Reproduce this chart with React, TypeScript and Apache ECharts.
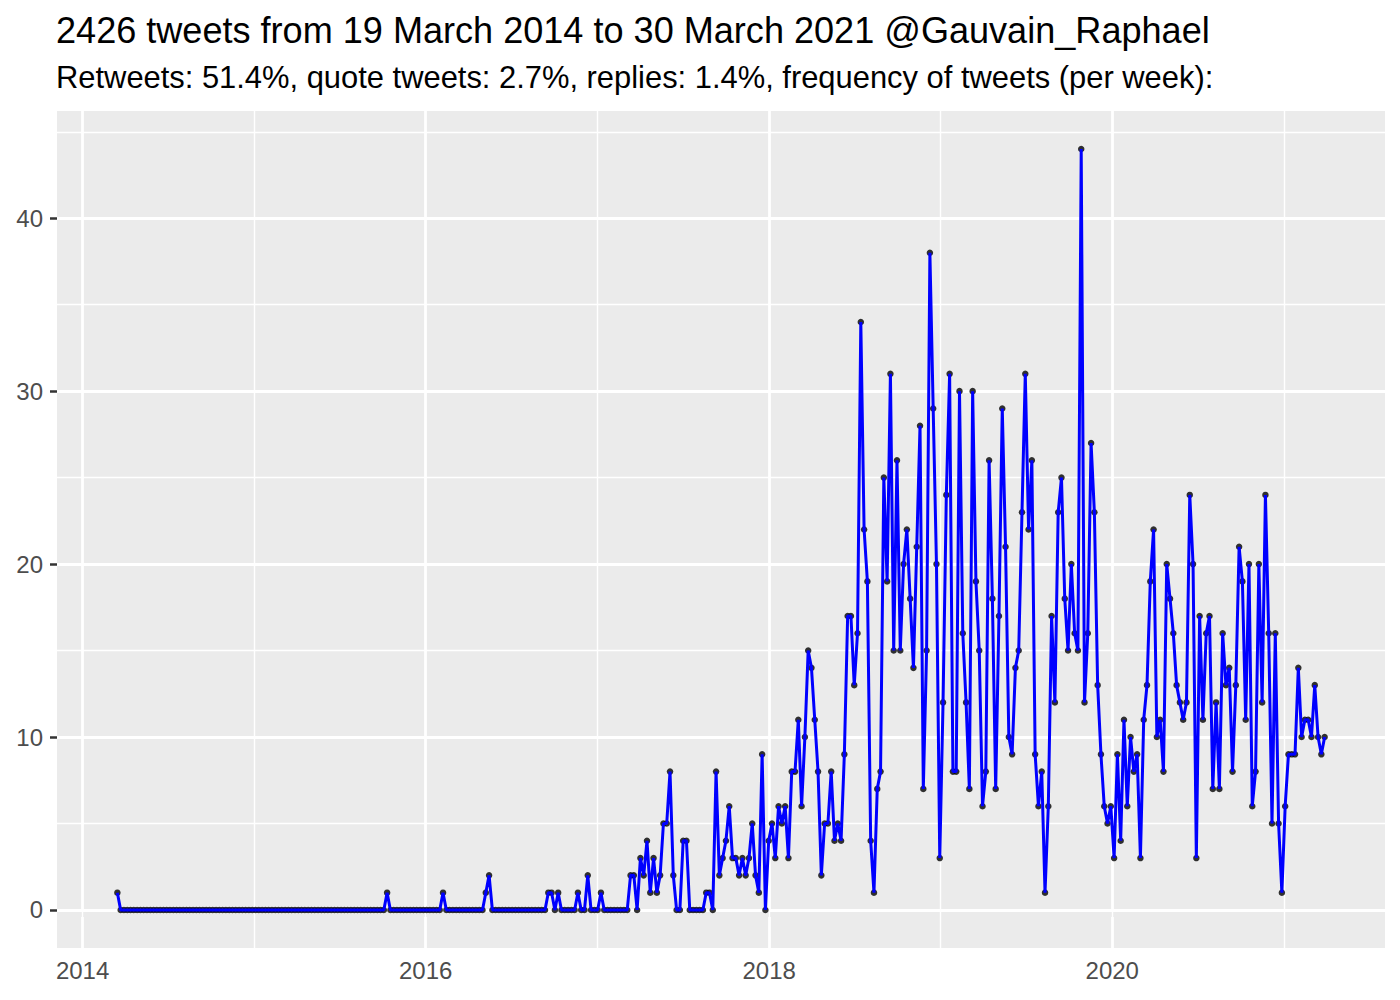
import React, { useEffect, useRef } from 'react';
import * as echarts from 'echarts';

// ---- data ----
const TITLE = '2426 tweets from 19 March 2014 to 30 March 2021 @Gauvain_Raphael';
const SUBTITLE = 'Retweets: 51.4%, quote tweets: 2.7%, replies: 1.4%, frequency of tweets (per week):';

// first week (start of week) of the series, weekly steps afterwards
const START_YEAR = 2014;
const START_MONTH = 3; // March
const START_DAY = 16;

// tweets per week, week 0 .. week 367
const tweetsPerWeek = [
  1,
  0, 0, 0, 0, 0, 0, 0, 0, 0, 0, 0, 0, 0, 0, 0, 0, 0, 0, 0, 0,
  0, 0, 0, 0, 0, 0, 0, 0, 0, 0, 0, 0, 0, 0, 0, 0, 0, 0, 0, 0,
  0, 0, 0, 0, 0, 0, 0, 0, 0, 0, 0, 0, 0, 0, 0, 0, 0, 0, 0, 0,
  0, 0, 0, 0, 0, 0, 0, 0, 0, 0, 0, 0, 0, 0, 0, 0, 0, 0, 0, 0,
  0, 1,
  0, 0, 0, 0, 0, 0, 0, 0, 0, 0, 0, 0, 0, 0, 0, 0,
  1,
  0, 0, 0, 0, 0, 0, 0, 0, 0, 0, 0, 0,
  1, 2,
  0, 0, 0, 0, 0, 0, 0, 0, 0, 0, 0, 0, 0, 0, 0, 0, 0,
  1, 1, 0, 1,
  0, 0, 0, 0, 0,
  1, 0, 0, 2, 0, 0, 0, 1,
  0, 0, 0, 0, 0, 0, 0, 0,
  2, 2, 0, 3, 2, 4, 1, 3, 1, 2, 5, 5, 8, 2, 0, 0, 4, 4,
  0, 0, 0, 0, 0,
  1, 1, 0, 8, 2, 3, 4, 6, 3, 3, 2, 3, 2, 3, 5, 2, 1, 9, 0, 4, 5, 3, 6, 5, 6, 3, 8,
  8, 11, 6, 10, 15, 14, 11, 8, 2, 5, 5, 8, 4, 5, 4, 9, 17, 17, 13, 16, 34, 22, 19, 4, 1, 7, 8,
  25, 19, 31, 15, 26, 15, 20, 22, 18, 14, 21, 28, 7, 15, 38, 29, 20, 3, 12, 24, 31, 8, 8, 30, 16,
  12, 7, 30, 19, 15, 6, 8, 26, 18, 7, 17, 29, 21, 10, 9, 14, 15, 23, 31, 22, 26, 9, 6, 8,
  1, 6, 17, 12, 23, 25, 18, 15, 20, 16, 15, 44, 12, 16, 27, 23, 13, 9, 6, 5, 6, 3, 9, 4,
  11, 6, 10, 8, 9, 3, 11, 13, 19, 22, 10, 11, 8, 20, 18, 16, 13, 12, 11, 12, 24, 20, 3,
  17, 11, 16, 17, 7, 12, 7, 16, 13, 14, 8, 13, 21, 19, 11, 20, 6, 8, 20, 12, 24, 16, 5, 16, 5,
  1, 6, 9, 9, 9, 14, 10, 11, 11, 10, 13, 10, 9, 10,
];

const xMajorYears = [2014, 2016, 2018, 2020];
const xMinorYears = [2015, 2017, 2019, 2021];
const yMajorTicks = [0, 10, 20, 30, 40];
const yMinorTicks = [5, 15, 25, 35, 45];

const FONT = '"Liberation Sans", Arial, Helvetica, sans-serif';

export default function App() {
  const ref = useRef<HTMLDivElement>(null);

  useEffect(() => {
    if (!ref.current) return;
    const chart = echarts.init(ref.current, undefined, { renderer: 'svg' });

    const DAY = 86400000;
    const start = Date.UTC(START_YEAR, START_MONTH - 1, START_DAY);
    const points = tweetsPerWeek.map((v, i) => [start + i * 7 * DAY, v]);
    const first = points[0][0] as number;
    const last = points[points.length - 1][0] as number;
    const xPad = (last - first) * 0.05;
    const yMaxData = Math.max(...tweetsPerWeek);
    const yMinData = Math.min(...tweetsPerWeek);
    const yPad = (yMaxData - yMinData) * 0.05;

    const yearMs = (y: number) => Date.UTC(y, 0, 1);
    const xMajor = xMajorYears.map(yearMs);
    const xMinor = xMinorYears.map(yearMs);

    const gridLines: any[] = [];
    xMinor.forEach((v) => gridLines.push({ xAxis: v, lineStyle: { color: '#FFFFFF', width: 1.4, type: 'solid' } }));
    yMinorTicks.forEach((v) => gridLines.push({ yAxis: v, lineStyle: { color: '#FFFFFF', width: 1.4, type: 'solid' } }));
    xMajor.forEach((v) => gridLines.push({ xAxis: v, lineStyle: { color: '#FFFFFF', width: 2.8, type: 'solid' } }));
    yMajorTicks.forEach((v) => gridLines.push({ yAxis: v, lineStyle: { color: '#FFFFFF', width: 2.8, type: 'solid' } }));

    chart.setOption({
      animation: false,
      backgroundColor: '#FFFFFF',
      textStyle: { fontFamily: FONT },
      graphic: [
        {
          type: 'text',
          x: 56,
          y: 30,
          style: {
            text: TITLE,
            fill: '#000000',
            fontSize: 36.1,
            fontFamily: FONT,
            align: 'left',
            verticalAlign: 'middle',
          },
        },
        {
          type: 'text',
          x: 56,
          y: 77,
          style: {
            text: SUBTITLE,
            fill: '#000000',
            fontSize: 30.9,
            fontFamily: FONT,
            align: 'left',
            verticalAlign: 'middle',
          },
        },
      ],
      grid: {
        left: 57,
        right: 15,
        top: 111,
        bottom: 52,
        show: true,
        backgroundColor: '#EBEBEB',
        borderWidth: 0,
        containLabel: false,
      },
      xAxis: {
        type: 'value',
        min: first - xPad,
        max: last + xPad,
        axisLine: { show: false },
        splitLine: { show: false },
        axisTick: {
          show: true,
          customValues: xMajor,
          length: 7,
          lineStyle: { color: '#333333', width: 2.5 },
        },
        axisLabel: {
          customValues: xMajor,
          formatter: (v: number) => String(new Date(v).getUTCFullYear()),
          color: '#4D4D4D',
          fontSize: 24,
          fontFamily: FONT,
          margin: 10,
        },
      },
      yAxis: {
        type: 'value',
        min: yMinData - yPad,
        max: yMaxData + yPad,
        axisLine: { show: false },
        splitLine: { show: false },
        axisTick: {
          show: true,
          customValues: yMajorTicks,
          length: 7,
          lineStyle: { color: '#333333', width: 2.5 },
        },
        axisLabel: {
          customValues: yMajorTicks,
          color: '#4D4D4D',
          fontSize: 24,
          fontFamily: FONT,
          margin: 14,
        },
      },
      series: [
        {
          name: 'grid',
          type: 'line',
          data: [],
          silent: true,
          z: 1,
          markLine: {
            z: 1,
            silent: true,
            symbol: ['none', 'none'],
            label: { show: false },
            animation: false,
            emphasis: { disabled: true },
            data: gridLines,
          },
        },
        {
          name: 'points',
          type: 'scatter',
          data: points,
          symbol: 'circle',
          symbolSize: 6.5,
          itemStyle: { color: '#000000' },
          silent: true,
          z: 3,
        },
        {
          name: 'tweets',
          type: 'line',
          data: points,
          showSymbol: false,
          symbol: 'none',
          lineStyle: { color: '#0000FF', width: 3 },
          silent: true,
          z: 4,
        },
      ],
    });

    return () => {
      chart.dispose();
    };
  }, []);

  return (
    <div
      ref={ref}
      style={{ position: 'fixed', left: 0, top: 0, width: 1400, height: 1000, background: '#FFFFFF' }}
    />
  );
}
